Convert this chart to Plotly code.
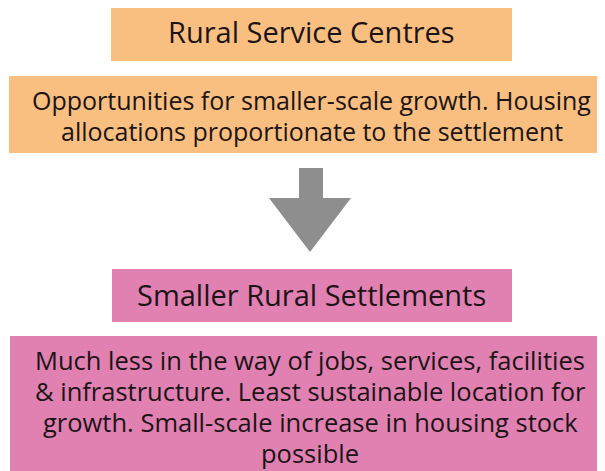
import plotly.graph_objects as go

# Diagram content
tiers = ["Rural Service Centres", "Smaller Rural Settlements"]
description_lines = [
    ["Opportunities for smaller-scale growth. Housing",
     "allocations proportionate to the settlement"],
    ["Much less in the way of jobs, services, facilities",
     "&amp; infrastructure. Least sustainable location for",
     "growth. Small-scale increase in housing stock",
     "possible"],
]
tier_colors = ["#F9BF80", "#E081B2"]
arrow_color = "#8E8E8E"
text_color = "#1c1416"
FONT = "Open Sans, sans-serif"

W, H = 605, 471
OFF = 8  # page body margin; data coords == screen pixels
fig = go.Figure()

# layout geometry (screen pixels)
title_boxes = [(111, 6, 512, 61), (112, 269, 512, 322)]
title_mid = [31, 294]
desc_boxes = [(9, 76, 640, 153), (10, 336, 640, 500)]
desc_first_mid = [99.5, 360]
desc_pitch = [31.5, 31]
desc_size = [25, 25.5]
text_cx = [311.5, 310]

shapes = []
annotations = []
for i in range(2):
    x0, y0, x1, y1 = title_boxes[i]
    shapes.append(dict(type="rect", x0=x0, y0=y0, x1=x1, y1=y1,
                       fillcolor=tier_colors[i], line=dict(width=0), layer="below"))
    annotations.append(dict(x=311.5, y=title_mid[i], text=tiers[i], showarrow=False,
                            xanchor="center", yanchor="middle",
                            font=dict(family=FONT, size=29, color=text_color)))
    x0, y0, x1, y1 = desc_boxes[i]
    shapes.append(dict(type="rect", x0=x0, y0=y0, x1=x1, y1=y1,
                       fillcolor=tier_colors[i], line=dict(width=0), layer="below"))
    for j, line in enumerate(description_lines[i]):
        annotations.append(dict(x=text_cx[i],
                                y=desc_first_mid[i] + j * desc_pitch[i], text=line,
                                showarrow=False, xanchor="center", yanchor="middle",
                                font=dict(family=FONT, size=desc_size[i], color=text_color)))

# down arrow
shapes.append(dict(type="path",
                   path="M 299 168 L 323 168 L 323 198 L 351 198 L 310 252 L 269 198 L 299 198 Z",
                   fillcolor=arrow_color, line=dict(width=0)))

fig.update_layout(
    width=W, height=H,
    margin=dict(l=0, r=0, t=0, b=0),
    paper_bgcolor="white", plot_bgcolor="white",
    xaxis=dict(range=[OFF, W + OFF], visible=False, fixedrange=True),
    yaxis=dict(range=[H + OFF, OFF], visible=False, fixedrange=True),
    shapes=shapes, annotations=annotations, showlegend=False,
)
fig.write_html("out.html")
